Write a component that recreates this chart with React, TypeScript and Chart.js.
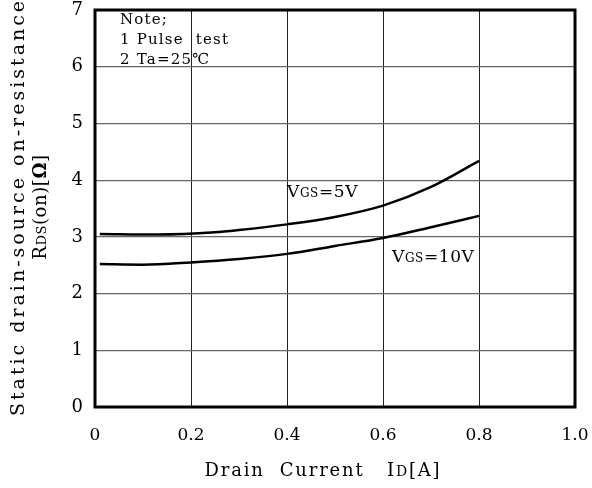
import React, { useEffect, useRef } from "react";
import { Chart, registerables } from "chart.js";

Chart.register(...registerables);

const xVgs5 = [0.01, 0.13, 0.25, 0.3, 0.4, 0.5, 0.6, 0.7, 0.8];
const yVgs5 = [3.05, 3.04, 3.08, 3.12, 3.22, 3.35, 3.55, 3.88, 4.34];
const xVgs10 = [0.01, 0.1, 0.2, 0.3, 0.4, 0.5, 0.6, 0.7, 0.8];
const yVgs10 = [2.52, 2.51, 2.55, 2.61, 2.7, 2.84, 2.98, 3.17, 3.37];
const xTicks = [0, 0.2, 0.4, 0.6, 0.8, 1.0];
const yTicks = [0, 1, 2, 3, 4, 5, 6, 7];
const noteLines = ["Note;", "1 Pulse  test", "2 Ta=25℃"];

const FONT = "'DejaVu Serif', 'Liberation Serif', serif";

type Seg = { t: string; size: number; bold?: boolean };

function drawSegs(ctx: CanvasRenderingContext2D, segs: Seg[], x: number, y: number, align: "left" | "center", spacing: number) {
  ctx.save();
  (ctx as any).letterSpacing = spacing + "px";
  ctx.textBaseline = "alphabetic";
  ctx.textAlign = "left";
  let total = 0;
  const widths = segs.map((s) => {
    ctx.font = `${s.bold ? "bold " : ""}${s.size}px ${FONT}`;
    const w = ctx.measureText(s.t).width;
    total += w;
    return w;
  });
  let cx = align === "center" ? x - total / 2 : x;
  segs.forEach((s, i) => {
    ctx.font = `${s.bold ? "bold " : ""}${s.size}px ${FONT}`;
    ctx.fillText(s.t, cx, y);
    cx += widths[i];
  });
  ctx.restore();
}

const textPlugin = {
  id: "texts",
  afterDraw(chart: any) {
    const ctx: CanvasRenderingContext2D = chart.ctx;
    const { left, right, top, bottom } = chart.chartArea;
    ctx.save();
    ctx.fillStyle = "#000";
    ctx.strokeStyle = "#000";
    ctx.lineWidth = 3;
    ctx.strokeRect(left, top, right - left, bottom - top);
    noteLines.forEach((l, i) => {
      drawSegs(ctx, [{ t: l, size: 15 }], 120, 24 + i * 20, "left", 1.2);
    });
    drawSegs(ctx, [{ t: "V", size: 17 }, { t: "GS", size: 12 }, { t: "=5V", size: 17 }], 287, 197, "left", 0.6);
    drawSegs(ctx, [{ t: "V", size: 17 }, { t: "GS", size: 12 }, { t: "=10V", size: 17 }], 392, 262, "left", 0.6);
    drawSegs(ctx, [{ t: "Drain  Current   I", size: 18 }, { t: "D", size: 14 }, { t: "[A]", size: 18 }], 323, 476, "center", 1.8);
    ctx.save();
    ctx.translate(24, 207);
    ctx.rotate(-Math.PI / 2);
    drawSegs(ctx, [{ t: "Static drain-source on-resistance", size: 19 }], 0, 0, "center", 3);
    drawSegs(
      ctx,
      [
        { t: "R", size: 18 },
        { t: "DS", size: 13 },
        { t: "(on)[", size: 18 },
        { t: "Ω", size: 18, bold: true },
        { t: "]", size: 18 },
      ],
      0,
      22,
      "center",
      0.6
    );
    ctx.restore();
    ctx.restore();
  },
};

export default function App() {
  const ref = useRef<HTMLCanvasElement>(null);
  useEffect(() => {
    document.body.style.margin = "0";
    const mk = (xs: number[], ys: number[]) => xs.map((x, i) => ({ x, y: ys[i] }));
    const chart = new Chart(ref.current!, {
      type: "line",
      data: {
        datasets: [
          {
            label: "VGS=5V",
            data: mk(xVgs5, yVgs5),
            borderColor: "#000",
            borderWidth: 2.5,
            pointRadius: 0,
            cubicInterpolationMode: "monotone",
            fill: false,
          },
          {
            label: "VGS=10V",
            data: mk(xVgs10, yVgs10),
            borderColor: "#000",
            borderWidth: 2.5,
            pointRadius: 0,
            cubicInterpolationMode: "monotone",
            fill: false,
          },
        ],
      },
      options: {
        animation: false,
        responsive: false,
        layout: { padding: { top: 10, right: 17, left: 0, bottom: 0 } },
        plugins: { legend: { display: false }, tooltip: { enabled: false } },
        scales: {
          x: {
            type: "linear",
            min: 0,
            max: 1,
            afterBuildTicks: (s: any) => {
              s.ticks = xTicks.map((v) => ({ value: v }));
            },
            afterFit: (s: any) => {
              s.height = 81;
              s.paddingLeft = 0;
              s.paddingRight = 0;
            },
            ticks: {
              font: { family: FONT, size: 17 },
              color: "#000",
              padding: 18,
              maxRotation: 0,
              callback: (v: any) => (v === 0 ? "0" : Number(v).toFixed(1)),
            },
            grid: {
              color: (c: any) => (c.tick && (c.tick.value === 0 || c.tick.value === 1) ? "rgba(0,0,0,0)" : "#222"),
              lineWidth: 1,
              drawTicks: false,
            },
            border: { display: false },
          },
          y: {
            type: "linear",
            min: 0,
            max: 7,
            afterBuildTicks: (s: any) => {
              s.ticks = yTicks.map((v) => ({ value: v }));
            },
            afterFit: (s: any) => {
              s.width = 95;
              s.paddingTop = 0;
              s.paddingBottom = 0;
            },
            ticks: {
              font: { family: FONT, size: 18 },
              color: "#000",
              padding: 12,
              callback: (v: any) => String(v),
            },
            grid: {
              color: (c: any) => (c.tick && (c.tick.value === 0 || c.tick.value === 7) ? "rgba(0,0,0,0)" : "#666"),
              lineWidth: 1.2,
              drawTicks: false,
            },
            border: { display: false },
          },
        },
      },
      plugins: [textPlugin],
    } as any);
    return () => chart.destroy();
  }, []);
  return (
    <div style={{ position: "absolute", left: 0, top: 0, width: 592, height: 488, background: "#fff" }}>
      <canvas ref={ref} width={592} height={488} style={{ width: 592, height: 488, display: "block" }} />
    </div>
  );
}
